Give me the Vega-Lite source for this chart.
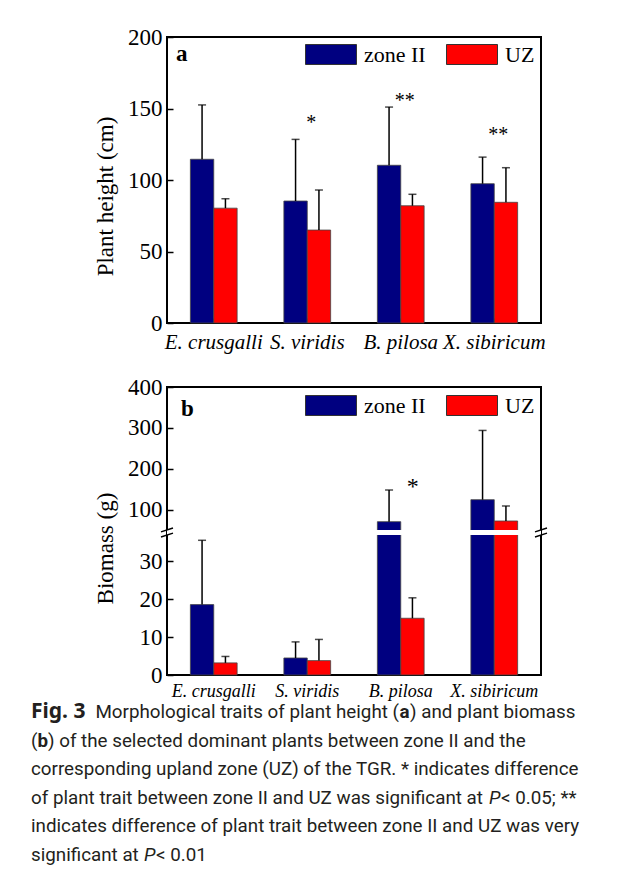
{
  "$schema": "https://vega.github.io/schema/vega-lite/v6.json",
  "background": "white",
  "padding": {"left": 31, "top": 25, "right": 0, "bottom": 0},
  "spacing": 64,
  "bounds": "flush",
  "datasets": {
    "height": [
      {"species": "E. crusgalli", "zone": "zone II", "mean": 114.5, "upper": 152.5},
      {"species": "E. crusgalli", "zone": "UZ", "mean": 80.3, "upper": 86.9},
      {"species": "S. viridis", "zone": "zone II", "mean": 85.3, "upper": 128.4},
      {"species": "S. viridis", "zone": "UZ", "mean": 65, "upper": 93},
      {"species": "B. pilosa", "zone": "zone II", "mean": 110.3, "upper": 151},
      {"species": "B. pilosa", "zone": "UZ", "mean": 82, "upper": 90},
      {"species": "X. sibiricum", "zone": "zone II", "mean": 97.4, "upper": 116},
      {"species": "X. sibiricum", "zone": "UZ", "mean": 84.4, "upper": 108.6}
    ],
    "height_sig": [
      {"species": "S. viridis", "label": "*", "y": 135.7},
      {"species": "B. pilosa", "label": "**", "y": 151},
      {"species": "X. sibiricum", "label": "**", "y": 127.3}
    ],
    "height_tag": [
      {"species": "E. crusgalli", "label": "a", "y": 183}
    ],
    "biomass": [
      {"species": "E. crusgalli", "zone": "zone II", "mean": 18.6, "upper": 35.6},
      {"species": "E. crusgalli", "zone": "UZ", "mean": 3.2, "upper": 4.9},
      {"species": "S. viridis", "zone": "zone II", "mean": 4.5, "upper": 8.75},
      {"species": "S. viridis", "zone": "UZ", "mean": 3.8, "upper": 9.4},
      {"species": "B. pilosa", "zone": "zone II", "mean": 71.3, "upper": 148.6},
      {"species": "B. pilosa", "zone": "UZ", "mean": 15, "upper": 20.4},
      {"species": "X. sibiricum", "zone": "zone II", "mean": 125, "upper": 294},
      {"species": "X. sibiricum", "zone": "UZ", "mean": 73, "upper": 109.6}
    ],
    "biomass_sig": [
      {"species": "B. pilosa", "label": "*", "y": 138.9}
    ],
    "biomass_tag": [
      {"species": "E. crusgalli", "label": "b", "y": 329}
    ],
    "axis_break": [
      {"brk": 44}
    ],
    "caption": [
      {"line": 1, "seg": "fig", "text": "Fig. 3"},
      {"line": 1, "seg": "r1a", "text": "Morphological traits of plant height ("},
      {"line": 1, "seg": "b1", "text": "a"},
      {"line": 1, "seg": "r1b", "text": ") and plant biomass"},
      {"line": 2, "seg": "r2a", "text": "("},
      {"line": 2, "seg": "b2", "text": "b"},
      {"line": 2, "seg": "r2b", "text": ") of the selected dominant plants between zone II and the"},
      {"line": 3, "seg": "full", "text": "corresponding upland zone (UZ) of the TGR. * indicates difference"},
      {"line": 4, "seg": "full", "text": "of plant trait between zone II and UZ was significant at"},
      {"line": 4, "seg": "i4", "text": "P"},
      {"line": 4, "seg": "r4b", "text": "< 0.05; **"},
      {"line": 5, "seg": "full", "text": "indicates difference of plant trait between zone II and UZ was very"},
      {"line": 6, "seg": "full", "text": "significant at"},
      {"line": 6, "seg": "i6", "text": "P"},
      {"line": 6, "seg": "r6b", "text": "< 0.01"}
    ]
  },
  "config": {
    "view": {"stroke": "black", "strokeWidth": 2},
    "axis": {
      "grid": false,
      "domain": false,
      "tickColor": "black",
      "tickWidth": 1.5,
      "labelColor": "black",
      "labelFont": "Liberation Serif",
      "titleFont": "Liberation Serif",
      "titleColor": "black",
      "titleFontWeight": "normal"
    },
    "legend": {
      "title": null,
      "orient": "none",
      "direction": "horizontal",
      "padding": 0,
      "symbolType": "M-1,-0.392H1V0.392H-1Z",
      "symbolSize": 2601,
      "symbolStrokeColor": "#333333",
      "symbolStrokeWidth": 1,
      "symbolOpacity": 1,
      "labelFont": "Liberation Serif",
      "labelFontSize": 22,
      "labelColor": "black",
      "labelOffset": 7,
      "columnPadding": 18
    },
    "text": {"color": "black"}
  },
  "resolve": {
    "scale": {"color": "independent", "x": "independent", "y": "independent"},
    "legend": {"color": "independent"}
  },
  "vconcat": [
    {
      "width": 374,
      "height": 286,
      "data": {"name": "height"},
      "layer": [
        {
          "mark": {"type": "bar", "stroke": "#444444", "strokeWidth": 0.8},
          "encoding": {
            "x": {"field": "species", "type": "nominal", "sort": ["E. crusgalli", "S. viridis", "B. pilosa", "X. sibiricum"], "scale": {"paddingInner": 0.5, "paddingOuter": 0.25},
              "axis": {"title": null, "labelAngle": 0, "labelFontStyle": "italic", "labelFontSize": 21, "tickSize": -5, "labelPadding": 13}},
            "xOffset": {"field": "zone", "type": "nominal", "sort": ["zone II", "UZ"], "scale": {"paddingInner": 0, "paddingOuter": 0}},
            "y": {"field": "mean", "type": "quantitative", "scale": {"domain": [0, 200], "nice": false},
              "axis": {"title": "Plant height (cm)", "values": [0, 50, 100, 150, 200], "tickSize": -6, "labelFontSize": 23, "labelPadding": 11, "titleFontSize": 23, "titlePadding": 10, "titleY": 159}},
            "color": {"field": "zone", "type": "nominal", "sort": ["zone II", "UZ"], "scale": {"domain": ["zone II", "UZ"], "range": ["#000080", "#ff0000"]},
              "legend": {"legendX": 138, "legendY": -8.5}}
          }
        },
        {
          "mark": {"type": "rule", "color": "black", "strokeWidth": 1.5},
          "encoding": {
            "x": {"field": "species", "type": "nominal", "sort": ["E. crusgalli", "S. viridis", "B. pilosa", "X. sibiricum"]},
            "xOffset": {"field": "zone", "type": "nominal", "sort": ["zone II", "UZ"]},
            "y": {"field": "mean", "type": "quantitative"},
            "y2": {"field": "upper"}
          }
        },
        {
          "mark": {"type": "tick", "color": "black", "thickness": 1.5, "size": 8, "orient": "horizontal"},
          "encoding": {
            "x": {"field": "species", "type": "nominal", "sort": ["E. crusgalli", "S. viridis", "B. pilosa", "X. sibiricum"]},
            "xOffset": {"field": "zone", "type": "nominal", "sort": ["zone II", "UZ"]},
            "y": {"field": "upper", "type": "quantitative"}
          }
        },
        {
          "data": {"name": "height_sig"},
          "mark": {"type": "text", "font": "Liberation Serif", "fontSize": 20, "baseline": "alphabetic", "align": "center", "dx": 4},
          "encoding": {
            "x": {"field": "species", "type": "nominal", "sort": ["E. crusgalli", "S. viridis", "B. pilosa", "X. sibiricum"]},
            "y": {"field": "y", "type": "quantitative"},
            "text": {"field": "label"}
          }
        },
        {
          "data": {"name": "height_tag"},
          "mark": {"type": "text", "font": "Liberation Serif", "fontSize": 23, "fontWeight": "bold", "baseline": "alphabetic", "align": "left", "dx": -37.75},
          "encoding": {
            "x": {"field": "species", "type": "nominal", "sort": ["E. crusgalli", "S. viridis", "B. pilosa", "X. sibiricum"]},
            "y": {"field": "y", "type": "quantitative"},
            "text": {"field": "label"}
          }
        }
      ]
    },
    {
      "width": 374,
      "height": 288,
      "data": {"name": "biomass"},
      "layer": [
        {
          "mark": {"type": "bar", "stroke": "#444444", "strokeWidth": 0.8},
          "encoding": {
            "x": {"field": "species", "type": "nominal", "sort": ["E. crusgalli", "S. viridis", "B. pilosa", "X. sibiricum"], "scale": {"paddingInner": 0.5, "paddingOuter": 0.25},
              "axis": {"title": null, "labelAngle": 0, "labelFontStyle": "italic", "labelFontSize": 18, "tickSize": -5, "labelPadding": 12}},
            "xOffset": {"field": "zone", "type": "nominal", "sort": ["zone II", "UZ"], "scale": {"paddingInner": 0, "paddingOuter": 0}},
            "y": {"field": "mean", "type": "quantitative", "scale": {"domain": [0, 37, 51, 400], "range": [288, 148, 143, 0], "nice": false},
              "axis": {"title": "Biomass (g)", "values": [0, 10, 20, 30, 100, 200, 300, 400], "tickSize": -6, "labelFontSize": 23, "labelPadding": 11, "titleFontSize": 23, "titlePadding": 10, "titleY": 161}},
            "color": {"field": "zone", "type": "nominal", "sort": ["zone II", "UZ"], "scale": {"domain": ["zone II", "UZ"], "range": ["#000080", "#ff0000"]},
              "legend": {"legendX": 138, "legendY": -7.5}}
          }
        },
        {
          "mark": {"type": "rule", "color": "black", "strokeWidth": 1.5},
          "encoding": {
            "x": {"field": "species", "type": "nominal", "sort": ["E. crusgalli", "S. viridis", "B. pilosa", "X. sibiricum"]},
            "xOffset": {"field": "zone", "type": "nominal", "sort": ["zone II", "UZ"]},
            "y": {"field": "mean", "type": "quantitative"},
            "y2": {"field": "upper"}
          }
        },
        {
          "mark": {"type": "tick", "color": "black", "thickness": 1.5, "size": 8, "orient": "horizontal"},
          "encoding": {
            "x": {"field": "species", "type": "nominal", "sort": ["E. crusgalli", "S. viridis", "B. pilosa", "X. sibiricum"]},
            "xOffset": {"field": "zone", "type": "nominal", "sort": ["zone II", "UZ"]},
            "y": {"field": "upper", "type": "quantitative"}
          }
        },
        {
          "data": {"name": "biomass_sig"},
          "mark": {"type": "text", "font": "Liberation Serif", "fontSize": 24, "baseline": "alphabetic", "align": "center", "dx": 12},
          "encoding": {
            "x": {"field": "species", "type": "nominal", "sort": ["E. crusgalli", "S. viridis", "B. pilosa", "X. sibiricum"]},
            "y": {"field": "y", "type": "quantitative"},
            "text": {"field": "label"}
          }
        },
        {
          "data": {"name": "biomass_tag"},
          "mark": {"type": "text", "font": "Liberation Serif", "fontSize": 23, "fontWeight": "bold", "baseline": "alphabetic", "align": "left", "dx": -32.75},
          "encoding": {
            "x": {"field": "species", "type": "nominal", "sort": ["E. crusgalli", "S. viridis", "B. pilosa", "X. sibiricum"]},
            "y": {"field": "y", "type": "quantitative"},
            "text": {"field": "label"}
          }
        },
        {
          "data": {"name": "axis_break"},
          "mark": {"type": "rule", "color": "white", "strokeWidth": 5},
          "encoding": {"y": {"field": "brk", "type": "quantitative"}}
        },
        {
          "data": {"name": "axis_break"},
          "mark": {"type": "point", "shape": "M-1,-0.1L1,-0.75M-1,0.75L1,0.1", "filled": false, "stroke": "black", "strokeWidth": 1.5, "size": 144, "opacity": 1},
          "encoding": {"x": {"value": 0}, "y": {"field": "brk", "type": "quantitative"}}
        },
        {
          "data": {"name": "axis_break"},
          "mark": {"type": "point", "shape": "M-1,-0.1L1,-0.75M-1,0.75L1,0.1", "filled": false, "stroke": "black", "strokeWidth": 1.5, "size": 144, "opacity": 1},
          "encoding": {"x": {"value": "width"}, "y": {"field": "brk", "type": "quantitative"}}
        }
      ]
    },
    {
      "width": 374,
      "height": 143,
      "view": {"stroke": null},
      "data": {"name": "caption"},
      "encoding": {
        "y": {"field": "line", "type": "ordinal", "scale": {"type": "point", "padding": 0, "domain": [1, 2, 3, 4, 5, 6]}, "axis": null},
        "text": {"field": "text"},
        "x": {"value": 0}
      },
      "layer": [
        {"transform": [{"filter": "datum.seg == 'fig'"}], "mark": {"type": "text", "font": "Noto Sans", "fontWeight": "bold", "fontSize": 21, "align": "left", "baseline": "middle", "dx": -136, "dy": -27, "color": "#231f20"}},
        {"transform": [{"filter": "datum.seg == 'r1a'"}], "mark": {"type": "text", "font": "Roboto", "fontSize": 18.8, "align": "right", "baseline": "middle", "dx": 232, "dy": -27, "color": "#231f20"}},
        {"transform": [{"filter": "datum.seg == 'b1'"}], "mark": {"type": "text", "font": "Roboto", "fontWeight": "bold", "fontSize": 18.8, "align": "left", "baseline": "middle", "dx": 232.5, "dy": -27, "color": "#231f20"}},
        {"transform": [{"filter": "datum.seg == 'r1b'"}], "mark": {"type": "text", "font": "Roboto", "fontSize": 18.8, "align": "left", "baseline": "middle", "dx": 243, "dy": -27, "color": "#231f20"}},
        {"transform": [{"filter": "datum.seg == 'r2a'"}], "mark": {"type": "text", "font": "Roboto", "fontSize": 18.8, "align": "left", "baseline": "middle", "dx": -136, "dy": -27, "color": "#231f20"}},
        {"transform": [{"filter": "datum.seg == 'b2'"}], "mark": {"type": "text", "font": "Roboto", "fontWeight": "bold", "fontSize": 18.8, "align": "left", "baseline": "middle", "dx": -129.6, "dy": -27, "color": "#231f20"}},
        {"transform": [{"filter": "datum.seg == 'r2b'"}], "mark": {"type": "text", "font": "Roboto", "fontSize": 18.8, "align": "left", "baseline": "middle", "dx": -119, "dy": -27, "color": "#231f20"}},
        {"transform": [{"filter": "datum.seg == 'full'"}], "mark": {"type": "text", "font": "Roboto", "fontSize": 18.8, "align": "left", "baseline": "middle", "dx": -136, "dy": -27, "color": "#231f20"}},
        {"transform": [{"filter": "datum.seg == 'i4'"}], "mark": {"type": "text", "font": "Roboto", "fontStyle": "italic", "fontSize": 18.8, "align": "left", "baseline": "middle", "dx": 322, "dy": -27, "color": "#231f20"}},
        {"transform": [{"filter": "datum.seg == 'r4b'"}], "mark": {"type": "text", "font": "Roboto", "fontSize": 18.8, "align": "left", "baseline": "middle", "dx": 334, "dy": -27, "color": "#231f20"}},
        {"transform": [{"filter": "datum.seg == 'i6'"}], "mark": {"type": "text", "font": "Roboto", "fontStyle": "italic", "fontSize": 18.8, "align": "left", "baseline": "middle", "dx": -23, "dy": -27, "color": "#231f20"}},
        {"transform": [{"filter": "datum.seg == 'r6b'"}], "mark": {"type": "text", "font": "Roboto", "fontSize": 18.8, "align": "left", "baseline": "middle", "dx": -11, "dy": -27, "color": "#231f20"}}
      ]
    }
  ]
}
